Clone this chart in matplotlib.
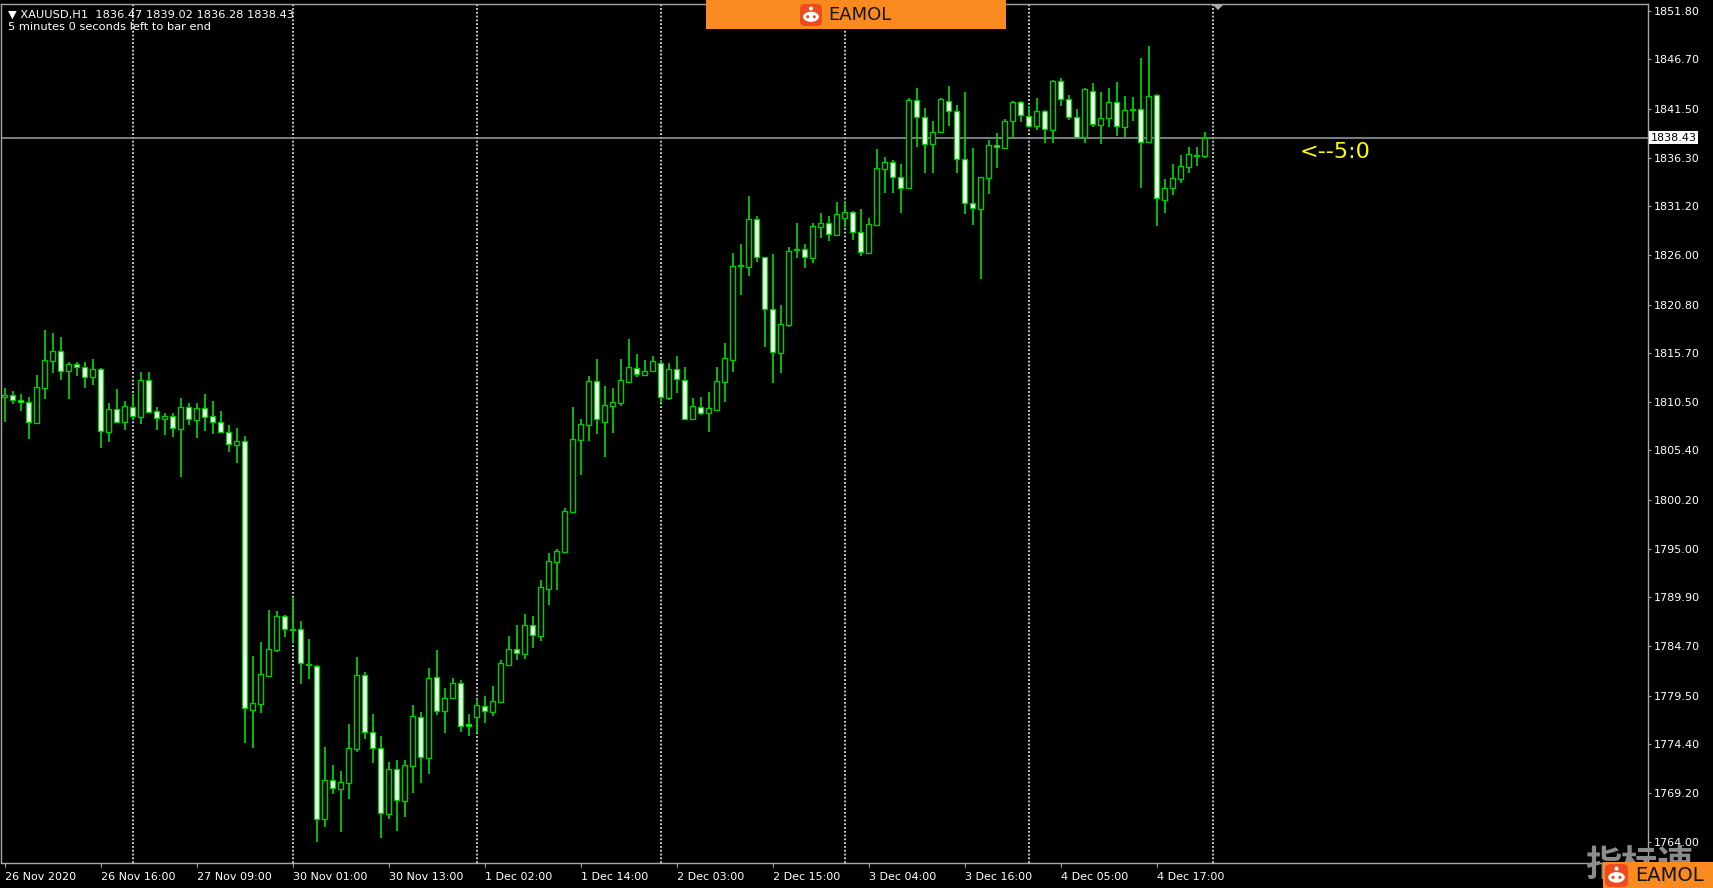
import matplotlib
matplotlib.use("Agg")
import matplotlib.pyplot as plt
import numpy as np
import matplotlib.transforms as mtransforms
from matplotlib.patches import Rectangle, FancyBboxPatch, Polygon, Ellipse, Circle

# ---------------- data (XAUUSD H1) ----------------
opens = [
    1810.99, 1811.20, 1810.71, 1810.47, 1808.32, 1811.94, 1814.87, 1815.89, 1813.81, 1814.52,
    1814.16, 1813.11, 1813.95, 1807.37, 1809.72, 1808.42, 1809.94, 1808.95, 1812.83, 1809.55,
    1808.74, 1809.02, 1807.65, 1809.94, 1808.60, 1809.83, 1808.99, 1808.35, 1807.30, 1805.99,
    1806.42, 1777.97, 1778.60, 1781.59, 1784.31, 1787.90, 1786.38, 1786.49, 1782.85, 1782.65,
    1766.46, 1770.58, 1769.63, 1770.29, 1773.82, 1781.67, 1775.61, 1773.92, 1766.99, 1771.70,
    1768.39, 1772.09, 1777.20, 1772.94, 1781.42, 1777.86, 1779.20, 1780.79, 1776.43, 1777.27,
    1778.43, 1777.79, 1778.85, 1782.72, 1784.37, 1783.88, 1786.95, 1785.78, 1790.71, 1793.64,
    1794.66, 1798.92, 1806.49, 1808.07, 1812.75, 1808.42, 1810.11, 1810.43, 1812.65, 1814.13,
    1813.35, 1813.77, 1814.59, 1810.89, 1813.95, 1812.79, 1808.71, 1810.01, 1809.31, 1809.66,
    1812.65, 1814.94, 1824.85, 1824.80, 1829.83, 1825.78, 1820.29, 1815.71, 1818.64, 1826.56,
    1826.63, 1825.75, 1829.02, 1829.37, 1828.14, 1829.90, 1830.54, 1828.42, 1826.28, 1829.20,
    1835.11, 1835.82, 1834.23, 1833.07, 1842.40, 1840.57, 1837.75, 1839.06, 1842.33, 1841.24,
    1836.17, 1831.49, 1830.89, 1834.20, 1837.65, 1837.37, 1840.18, 1842.15, 1840.75, 1839.66,
    1841.24, 1839.23, 1844.41, 1842.47, 1840.64, 1838.46, 1843.39, 1839.76, 1840.53, 1842.23,
    1839.59, 1841.30, 1841.42, 1837.93, 1842.93, 1831.84, 1833.07, 1834.02, 1835.36, 1836.60,
    1836.47,
]
highs = [
    1811.94, 1811.70, 1811.34, 1811.06, 1813.35, 1818.11, 1817.75, 1817.33, 1814.76, 1814.76,
    1814.76, 1815.01, 1814.06, 1810.36, 1811.87, 1810.61, 1811.34, 1813.70, 1813.63, 1809.94,
    1809.30, 1809.30, 1810.89, 1810.36, 1810.36, 1811.34, 1810.61, 1809.58, 1808.07, 1807.72,
    1806.91, 1783.67, 1785.12, 1788.53, 1788.43, 1787.97, 1789.76, 1787.37, 1785.47, 1782.72,
    1774.10, 1772.16, 1771.53, 1776.49, 1783.53, 1781.95, 1777.55, 1775.22, 1772.51, 1772.69,
    1772.69, 1778.50, 1777.72, 1782.37, 1784.31, 1780.26, 1781.39, 1781.14, 1777.51, 1779.10,
    1779.45, 1780.50, 1783.25, 1785.78, 1786.95, 1788.11, 1787.90, 1791.70, 1794.52, 1794.94,
    1799.27, 1809.94, 1808.67, 1813.25, 1815.04, 1812.19, 1811.94, 1815.01, 1817.12, 1815.57,
    1814.94, 1815.36, 1814.94, 1814.59, 1815.36, 1814.16, 1810.96, 1811.07, 1811.52, 1814.16,
    1816.70, 1826.27, 1827.19, 1832.26, 1830.15, 1825.78, 1826.14, 1820.75, 1826.91, 1829.37,
    1827.16, 1829.45, 1830.43, 1830.15, 1831.59, 1831.59, 1830.68, 1830.89, 1829.90, 1837.19,
    1836.42, 1836.06, 1835.64, 1842.58, 1843.70, 1841.52, 1840.18, 1842.58, 1843.88, 1841.87,
    1843.28, 1837.37, 1834.30, 1838.18, 1838.88, 1840.36, 1842.30, 1842.30, 1841.80, 1842.58,
    1841.34, 1844.51, 1844.76, 1842.93, 1841.42, 1843.63, 1844.16, 1843.21, 1843.63, 1844.27,
    1842.82, 1842.68, 1846.80, 1848.10, 1843.03, 1834.02, 1835.64, 1836.59, 1837.40, 1837.40,
    1839.02,
]
lows = [
    1808.42, 1810.25, 1809.58, 1806.56, 1808.32, 1810.82, 1813.60, 1812.83, 1810.82, 1813.28,
    1811.94, 1812.30, 1805.61, 1806.31, 1808.25, 1807.54, 1808.60, 1808.18, 1809.37, 1807.54,
    1807.01, 1806.77, 1802.61, 1808.07, 1806.66, 1807.47, 1807.12, 1807.19, 1805.19, 1804.09,
    1774.45, 1773.99, 1777.69, 1781.59, 1784.06, 1785.64, 1785.08, 1780.68, 1781.21, 1764.06,
    1765.58, 1769.10, 1765.05, 1768.53, 1773.57, 1774.87, 1772.41, 1764.41, 1766.42, 1765.23,
    1766.63, 1769.17, 1770.23, 1771.18, 1777.44, 1775.51, 1779.13, 1775.68, 1775.22, 1775.51,
    1776.56, 1777.33, 1778.85, 1782.72, 1783.25, 1783.35, 1784.48, 1785.29, 1789.06, 1790.64,
    1794.66, 1798.92, 1802.79, 1806.42, 1807.12, 1804.73, 1807.19, 1810.11, 1812.65, 1813.18,
    1813.25, 1813.77, 1810.36, 1810.71, 1811.42, 1808.71, 1808.71, 1809.13, 1807.30, 1809.66,
    1810.54, 1813.71, 1821.81, 1823.85, 1825.33, 1816.35, 1812.55, 1813.60, 1818.46, 1825.68,
    1824.69, 1825.22, 1827.86, 1827.51, 1828.07, 1828.95, 1827.61, 1825.96, 1826.28, 1829.09,
    1832.61, 1832.61, 1830.50, 1833.00, 1837.47, 1834.72, 1834.66, 1838.99, 1839.66, 1834.73,
    1830.36, 1829.20, 1823.50, 1832.47, 1835.26, 1837.37, 1838.53, 1840.11, 1839.51, 1839.23,
    1837.82, 1837.89, 1841.77, 1840.29, 1838.46, 1837.82, 1839.51, 1837.75, 1839.51, 1838.60,
    1838.46, 1840.18, 1833.07, 1837.93, 1829.09, 1830.50, 1832.37, 1833.60, 1834.66, 1835.43,
    1836.28,
]
closes = [
    1811.24, 1810.68, 1810.47, 1808.35, 1812.12, 1814.94, 1815.92, 1813.81, 1814.52, 1814.16,
    1813.18, 1813.99, 1807.44, 1809.76, 1808.42, 1810.11, 1809.06, 1812.83, 1809.48, 1808.77,
    1809.06, 1807.72, 1809.94, 1808.70, 1809.90, 1808.95, 1808.35, 1807.30, 1806.06, 1806.42,
    1778.14, 1778.74, 1781.77, 1784.41, 1787.90, 1786.49, 1786.45, 1782.90, 1782.75, 1766.46,
    1770.58, 1769.70, 1770.33, 1773.92, 1781.67, 1775.61, 1773.92, 1767.06, 1771.74, 1768.46,
    1772.16, 1777.37, 1772.97, 1781.39, 1777.86, 1779.27, 1780.79, 1776.28, 1776.33, 1778.50,
    1777.86, 1778.92, 1782.90, 1784.37, 1783.95, 1786.95, 1785.89, 1791.00, 1793.74, 1794.80,
    1799.02, 1806.59, 1808.18, 1812.75, 1808.71, 1810.19, 1810.53, 1812.82, 1814.23, 1813.42,
    1813.81, 1814.83, 1811.00, 1813.99, 1812.89, 1808.71, 1810.08, 1809.31, 1809.83, 1812.72,
    1815.11, 1824.87, 1824.90, 1829.83, 1825.78, 1820.29, 1815.75, 1818.71, 1826.49, 1826.60,
    1825.78, 1829.13, 1829.37, 1828.25, 1830.36, 1830.54, 1828.42, 1826.31, 1829.30, 1835.18,
    1835.89, 1834.23, 1833.07, 1842.40, 1840.57, 1837.75, 1839.06, 1842.47, 1841.24, 1836.17,
    1831.49, 1830.96, 1834.30, 1837.65, 1837.40, 1840.22, 1842.15, 1840.82, 1839.66, 1841.24,
    1839.30, 1844.41, 1842.47, 1840.64, 1838.53, 1843.56, 1839.83, 1840.46, 1842.23, 1839.66,
    1841.35, 1841.40, 1837.93, 1842.82, 1832.01, 1833.14, 1834.13, 1835.43, 1836.70, 1836.47,
    1838.43,
]

time_labels = ["26 Nov 2020", "26 Nov 16:00", "27 Nov 09:00", "30 Nov 01:00", "30 Nov 13:00",
               "1 Dec 02:00", "1 Dec 14:00", "2 Dec 03:00", "2 Dec 15:00", "3 Dec 04:00",
               "3 Dec 16:00", "4 Dec 05:00", "4 Dec 17:00"]
price_labels = ["1851.80", "1846.70", "1841.50", "1836.30", "1831.20", "1826.00", "1820.80",
                "1815.70", "1810.50", "1805.40", "1800.20", "1795.00", "1789.90", "1784.70",
                "1779.50", "1774.40", "1769.20", "1764.00"]
day_separator_bars = [16, 36, 59, 82, 105, 128, 151]
symbol = "XAUUSD,H1"
bid_price = 1838.43
timer_text = "5 minutes 0 seconds left to bar end"
marker_text = "<--5:0"

# ---------------- figure ----------------
W, H = 1713, 888
DPI = 100
fig = plt.figure(figsize=(W / DPI, H / DPI), dpi=DPI, facecolor="black")

ax_left, ax_right, ax_top, ax_bottom = 1.0, 1647.7, 4.0, 862.5
ax = fig.add_axes([ax_left / W, 1 - ax_bottom / H, (ax_right - ax_left) / W, (ax_bottom - ax_top) / H])
ax.set_facecolor("black")

green = "#00CC00"
o = np.array(opens); h = np.array(highs); l = np.array(lows); c = np.array(closes)
x = np.arange(len(o))

# grid (day separators)
for g in day_separator_bars:
    ax.axvline(g, color="#DCDCDC", lw=1.3, linestyle=(0, (1, 1.1)), zorder=1)

# bid line
ax.axhline(bid_price, color="#8E939E", lw=1.2, zorder=2)

# candles
ax.vlines(x, l, h, color=green, lw=1.3, zorder=3)
bull = c >= o
body_bottom = np.minimum(o, c)
body_h = np.maximum(np.abs(c - o), 0.12)
ax.bar(x, body_h, bottom=body_bottom, width=0.6,
       color=np.where(bull, "black", "white"), edgecolor=green, linewidth=1.0, zorder=4)

ax.set_xlim(-0.459, 205.38)
ax.set_ylim(1761.87, 1852.54)

for s in ax.spines.values():
    s.set_color("#A8A8A8")
    s.set_linewidth(1.0)

ax.yaxis.tick_right()
ax.set_yticks([float(p) for p in price_labels])
ax.set_yticklabels(price_labels)
ax.tick_params(axis="y", direction="out", length=2.5, width=0.8, color="#A8A8A8",
               labelcolor="white", labelsize=8, pad=2)

ax.set_xticks(np.arange(len(time_labels)) * 12)
ax.set_xticklabels(time_labels, ha="left")
ax.tick_params(axis="x", direction="out", length=3, width=0.8, color="#A8A8A8",
               labelcolor="white", labelsize=8, pad=4)

# price tag on the axis
trans = mtransforms.blended_transform_factory(ax.transAxes, ax.transData)
ax.text(1.0 + 3 / (ax_right - ax_left), bid_price, f"{bid_price:.2f}", transform=trans,
        va="center", ha="left", fontsize=8, color="black", zorder=10, clip_on=False,
        bbox=dict(facecolor="white", edgecolor="none", pad=1.2))

# arrow text object in chart
ax.text(161.9, 1836.9, marker_text, color="#FFFF00", fontsize=16, va="center", ha="left", zorder=6)

# header texts
ohlc_last = f"{opens[-1]:.2f} {highs[-1]:.2f} {lows[-1]:.2f} {closes[-1]:.2f}"
fig.text(8 / W, 1 - 15 / H, "\u25BC " + symbol + "  " + ohlc_last, color="white",
         fontsize=8.2, va="center", ha="left", zorder=7)
fig.text(8 / W, 1 - 27.5 / H, timer_text, color="white", fontsize=8.2, va="center", ha="left", zorder=7)

# ---------------- watermark/logo helpers (pixel coords, top-left origin) ----------------
T = fig.dpi_scale_trans

def P(px, py):
    return (px / DPI, (H - py) / DPI)

def rect(x0, y0, x1, y1, color, z):
    fig.add_artist(Rectangle(P(x0, y1), (x1 - x0) / DPI, (y1 - y0) / DPI, transform=T,
                             facecolor=color, edgecolor="none", zorder=z))

def robot_icon(x0, y0, size, z):
    fig.add_artist(FancyBboxPatch(P(x0, y0 + size), size / DPI, size / DPI,
                                  boxstyle=f"round,pad=0,rounding_size={size * 0.22 / DPI}",
                                  transform=T, facecolor="#EE4B1E", edgecolor="none", zorder=z))
    cx, cy = x0 + size / 2, y0 + size * 0.58
    fig.add_artist(Ellipse(P(cx, cy), size * 0.72 / DPI, size * 0.46 / DPI, transform=T,
                           facecolor="white", edgecolor="none", zorder=z + 1))
    fig.add_artist(Circle(P(cx, y0 + size * 0.2), size * 0.09 / DPI, transform=T,
                          facecolor="white", edgecolor="none", zorder=z + 1))
    for dx in (-0.15, 0.15):
        fig.add_artist(Circle(P(cx + dx * size, cy), size * 0.07 / DPI, transform=T,
                              facecolor="#EE4B1E", edgecolor="none", zorder=z + 2))

# top orange banner
rect(706, 0, 1006, 29, "#F98A1F", 8)
robot_icon(800, 4, 22, 9)
fig.text(828 / W, 1 - 15.5 / H, "EAMOL", color="#151515", fontsize=13, va="center", ha="left", zorder=12)

# chart shift marker
fig.add_artist(Polygon([P(1212, 4), P(1224, 4), P(1218, 10)], closed=True, transform=T,
                       facecolor="#A6ADBA", edgecolor="none", zorder=8))

# bottom-right watermark (partly hidden behind the logo box, as in the original)
fig.text(1585 / W, 1 - 846 / H, "指标速", family=["Noto Sans CJK SC", "DejaVu Sans"],
         fontsize=26, fontweight="bold", color="#8C8C8C", va="top", ha="left", zorder=7)
rect(1603, 862, 1713, 888, "#F98A1F", 8)
robot_icon(1605, 864, 23, 9)
fig.text(1635 / W, 1 - 875.5 / H, "EAMOL", color="#151515", fontsize=14, va="center", ha="left", zorder=12)

fig.savefig("out.png", dpi=DPI, facecolor="black")
